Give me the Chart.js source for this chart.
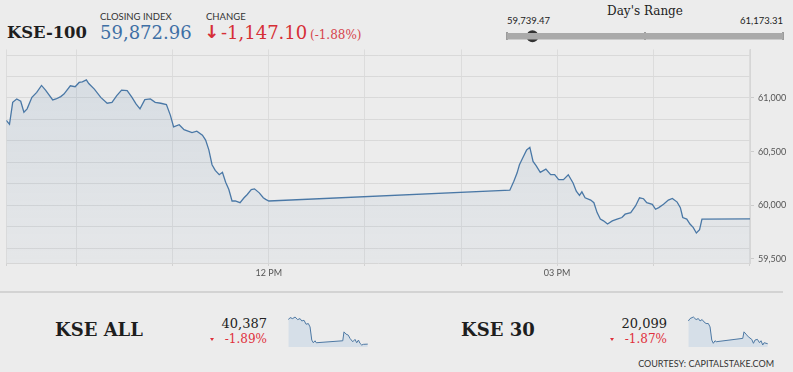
<!DOCTYPE html>
<html>
<head>
<meta charset="utf-8">
<script src="https://cdn.jsdelivr.net/npm/chart.js@4.4.1/dist/chart.umd.min.js"></script>
<style>
  body { margin: 0; background: #ececec; width: 793px; height: 372px; overflow: hidden; position: relative; font-family: 'DejaVu Serif', serif; }
  .t { position: absolute; white-space: nowrap; }
  .lab { font-family: Lato, sans-serif; font-size: 9.5px; color: #333; line-height: 9.5px; }
  canvas { position: absolute; }
  .sep { position: absolute; left: 0; top: 291px; width: 783px; height: 0; border-top: 2px solid #d3d3d3; }
  .tri { position: absolute; width: 0; height: 0; border-left: 2.5px solid transparent; border-right: 2.5px solid transparent; border-top: 3px solid #e0303c; }
</style>
</head>
<body>
<div class="t" style="left:7px;top:25px;font-size:16.4px;line-height:16.4px;font-weight:bold;color:#1e1e1e;">KSE-100</div>
<div class="t lab" style="left:100px;top:12px;">CLOSING INDEX</div>
<div class="t" style="left:100px;top:23.7px;font-size:18px;line-height:18px;color:#3e6fa5;">59,872.96</div>
<div class="t lab" style="left:206px;top:12px;">CHANGE</div>
<div class="t" style="left:204px;top:23px;font-family:'DejaVu Sans';font-weight:bold;font-size:18px;line-height:18px;color:#d62f36;">↓</div>
<div class="t" style="left:221px;top:23.7px;font-size:18px;line-height:18px;color:#d62f36;">-1,147.10</div>
<div class="t" style="left:310px;top:29px;font-size:12px;line-height:12px;color:#d6434b;">(-1.88%)</div>

<div class="t" style="left:645px;top:5.2px;font-size:12px;line-height:12px;color:#222;transform:translateX(-50%);">Day's Range</div>
<div class="t lab" style="left:507px;top:16.3px;color:#222;">59,739.47</div>
<div class="t lab" style="right:10px;top:16.3px;color:#222;">61,173.31</div>

<canvas id="graficoRange" width="290" height="20" style="left:500px;top:26px;"></canvas>
<canvas id="graficoKse" width="793" height="243" style="left:0;top:40px;"></canvas>

<div class="sep"></div>

<div class="t" style="left:55px;top:321px;font-size:18px;line-height:18px;font-weight:bold;color:#1e1e1e;">KSE ALL</div>
<div class="t" style="right:526px;top:316.8px;font-size:13px;line-height:13px;color:#222;">40,387</div>
<div class="tri" style="left:210px;top:338px;"></div>
<div class="t" style="right:526px;top:333.2px;font-size:12px;line-height:12px;color:#e0303c;">-1.89%</div>
<canvas id="graficoAll" width="84" height="36" style="left:286px;top:313px;"></canvas>

<div class="t" style="left:461px;top:321px;font-size:18px;line-height:18px;font-weight:bold;color:#1e1e1e;">KSE 30</div>
<div class="t" style="right:126px;top:316.8px;font-size:13px;line-height:13px;color:#222;">20,099</div>
<div class="tri" style="left:610px;top:338px;"></div>
<div class="t" style="right:126px;top:333.2px;font-size:12px;line-height:12px;color:#e0303c;">-1.87%</div>
<canvas id="grafico30" width="84" height="36" style="left:686px;top:313px;"></canvas>

<div class="t" style="right:19px;top:359px;font-family:Lato,sans-serif;font-size:9px;line-height:9px;color:#333;">COURTESY: CAPITALSTAKE.COM</div>

<script>
// KSE-100 intraday (minutes after midnight, index value)
const mainTimes = [556, 558, 560, 562.5, 565, 567, 569, 572, 575, 578, 580.5, 585, 587, 590, 592, 596, 599, 601.5, 603.5, 606,
  607.5, 611, 615, 619, 622, 625, 628, 631.5, 634.5, 637, 639.5, 642.5, 646, 649, 652.5, 656, 658.5, 660.5, 664, 667,
  672, 675, 678.5, 680.5, 682.5, 684.5, 686.5, 689, 691, 693, 695, 697, 699, 702, 704.5, 706.5, 709, 711, 714, 716.5,
  718, 720, 870.5, 873, 875, 876.5, 878, 881, 883, 885, 887, 889.5, 893, 896, 898.5, 901, 904, 907, 910, 912,
  914, 915.5, 917.5, 921, 923, 925, 927, 929, 931.5, 934.5, 937.5, 940.5, 942.5, 946, 949, 951.5, 954, 956, 959.5, 961.5,
  963.5, 966.5, 969.5, 972, 975, 977, 978.5, 981, 983, 985, 987, 989, 990.5, 1020.5];
const mainValues = [60792, 60755, 60960, 60991, 60970, 60868, 60899, 61006, 61052, 61117, 61074, 60982, 60991, 61013, 61037, 61114, 61105, 61145, 61151, 61169,
  61135, 61083, 61006, 60951, 60960, 61022, 61074, 61068, 61006, 60945, 60899, 60985, 60991, 60960, 60951, 60939, 60838, 60730, 60751, 60705,
  60678, 60691, 60654, 60608, 60516, 60378, 60325, 60285, 60307, 60215, 60147, 60040, 60040, 60024, 60070, 60101, 60147, 60153, 60116, 60070,
  60055, 60040, 60141, 60224, 60300, 60378, 60424, 60516, 60540, 60408, 60368, 60307, 60337, 60285, 60285, 60239, 60239, 60285, 60208, 60132,
  60092, 60125, 60070, 60049, 60024, 59932, 59871, 59855, 59825, 59855, 59871, 59886, 59917, 59932, 59994, 60070, 60061, 60024, 60009, 59963,
  59978, 60009, 60049, 60064, 60030, 59978, 59886, 59871, 59825, 59794, 59742, 59773, 59871, 59873];

// KSE ALL sparkline
const allTimes = [558, 568, 583, 597, 612, 626, 636, 649, 661, 674, 684, 694, 703, 713, 720, 874, 881, 893, 906, 916, 932, 945, 955, 965, 974, 984, 994, 1019];
const allValues = [41131, 41191, 41161, 41209, 41131, 41161, 41089, 41110, 40990, 41011, 40909, 40510, 40429, 40489, 40429, 40489, 40759, 40690, 40660, 40561, 40459, 40531, 40429, 40510, 40411, 40360, 40381, 40387];

// KSE 30 sparkline
const k30Times = [558, 568, 587, 603, 616, 626, 638, 649, 661, 674, 684, 694, 703, 713, 720, 874, 881, 893, 906, 926, 936, 945, 959, 971, 980, 990, 998, 1019];
const k30Values = [20445, 20481, 20505, 20466, 20481, 20445, 20466, 20430, 20406, 20406, 20355, 20155, 20106, 20145, 20130, 20181, 20280, 20245, 20205, 20166, 20106, 20155, 20166, 20115, 20145, 20080, 20115, 20099];

// axis ticks
const xTicks = [556, 600, 660, 720, 780, 840, 900, 960, 1020];
const xTickLabels = {720: '12 PM', 900: '03 PM'};
const yLabelValues = [59500, 60000, 60500, 61000];

// day's range
const dayLow = 59739.47;
const dayHigh = 61173.31;
const closeValue = 59872.96;

Chart.defaults.font.family = 'Lato';
Chart.defaults.animation = false;

function toPoints(xs, ys) {
  return xs.map((x, i) => ({x: x, y: ys[i]}));
}

//Gráfico principal
const ctxKse = document.getElementById('graficoKse').getContext('2d');
const yTicks = [];
for (let v = 59500; v <= 61400; v += 100) yTicks.push(v);

const graficoKse = new Chart(ctxKse, {
  type: 'line',
  data: {
    datasets: [{
      data: toPoints(mainTimes, mainValues),
      borderColor: '#4a78a6',
      borderWidth: 1.3,
      pointRadius: 0,
      tension: 0,
      fill: 'start',
      backgroundColor: function (context) {
        const chart = context.chart;
        const area = chart.chartArea;
        if (!area) return 'rgba(74,120,166,0.1)';
        const g = chart.ctx.createLinearGradient(0, area.top, 0, area.bottom);
        g.addColorStop(0, 'rgba(74,120,166,0.14)');
        g.addColorStop(1, 'rgba(74,120,166,0.04)');
        return g;
      }
    }]
  },
  options: {
    responsive: false,
    layout: { padding: { left: 6.3, top: 6.5, right: 0, bottom: 0 } },
    plugins: { legend: { display: false }, tooltip: { enabled: false } },
    scales: {
      x: {
        type: 'linear',
        min: 556,
        max: 1020.5,
        afterBuildTicks: function (axis) { axis.ticks = xTicks.map(v => ({value: v})); },
        afterFit: function (axis) { axis.height = 20; },
        ticks: {
          autoSkip: false,
          maxRotation: 0,
          padding: 2,
          color: '#555',
          font: { size: 9 },
          callback: v => xTickLabels[v] || ''
        },
        grid: { color: '#dcdcdc', tickColor: '#d2d2d2', tickLength: 3 },
        border: { color: '#d6d6d6' }
      },
      y: {
        position: 'right',
        min: 59462,
        max: 61453,
        afterBuildTicks: function (axis) { axis.ticks = yTicks.map(v => ({value: v})); },
        afterFit: function (axis) { axis.width = 43; },
        ticks: {
          autoSkip: false,
          padding: 4,
          color: '#555',
          font: { size: 9 },
          callback: v => yLabelValues.includes(v) ? v.toLocaleString('en-US') : ''
        },
        grid: {
          color: c => (c.tick && c.tick.value % 200 === 0) ? '#d9d9d9' : 'rgba(0,0,0,0)',
          tickColor: c => (c.tick && yLabelValues.includes(c.tick.value)) ? '#cccccc' : 'rgba(0,0,0,0)',
          tickLength: 4
        },
        border: { color: '#d6d6d6' }
      }
    }
  }
});

//Day's range
const ctxRange = document.getElementById('graficoRange').getContext('2d');
const graficoRange = new Chart(ctxRange, {
  type: 'line',
  data: {
    datasets: [{
      data: [{x: dayLow, y: 0}, {x: dayHigh, y: 0}],
      borderColor: '#aaaaaa',
      borderWidth: 6.5,
      pointRadius: 0
    }, {
      data: [{x: closeValue, y: 0}],
      showLine: false,
      pointRadius: 6,
      pointBackgroundColor: '#333333',
      pointBorderWidth: 0,
      clip: false
    }]
  },
  options: {
    responsive: false,
    layout: { padding: { left: 6.7, right: 6.7, top: 1.3, bottom: 1 } },
    plugins: { legend: { display: false }, tooltip: { enabled: false } },
    scales: {
      x: {
        type: 'linear',
        min: dayLow,
        max: dayHigh,
        afterBuildTicks: function (axis) { axis.ticks = [dayLow, (dayLow + dayHigh) / 2, dayHigh].map(v => ({value: v})); },
        afterFit: function (axis) { axis.height = 0; },
        ticks: { display: false },
        grid: { color: '#9c9c9c', lineWidth: 2, drawTicks: false },
        border: { display: false }
      },
      y: { display: false, min: -1, max: 1.2 }
    }
  }
});

//Sparklines
function sparkline(id, xs, ys, yMin, yMax) {
  const ctx = document.getElementById(id).getContext('2d');
  return new Chart(ctx, {
    type: 'line',
    data: {
      datasets: [{
        data: toPoints(xs, ys),
        borderColor: '#4d78a3',
        borderWidth: 1,
        pointRadius: 0,
        fill: 'start',
        backgroundColor: '#d6dfe8'
      }]
    },
    options: {
      responsive: false,
      layout: { padding: { left: 2, right: 2, top: 3, bottom: 2 } },
      plugins: { legend: { display: false }, tooltip: { enabled: false } },
      scales: {
        x: { type: 'linear', display: false, min: 556, max: 1020.5 },
        y: { display: false, min: yMin, max: yMax }
      }
    }
  });
}

const graficoAll = sparkline('graficoAll', allTimes, allValues, 40300, 41240);
const grafico30 = sparkline('grafico30', k30Times, k30Values, 20050, 20520);
</script>
</body>
</html>
